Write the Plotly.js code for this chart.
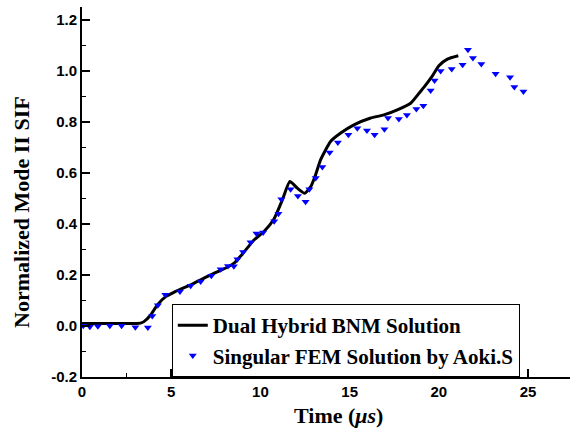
<!DOCTYPE html>
<html>
<head>
<meta charset="utf-8">
<script src="https://cdn.plot.ly/plotly-3.0.1.min.js"></script>
<style>html,body{margin:0;padding:0;background:#fff;}#chart{width:571px;height:442px;}</style>
</head>
<body>
<div id="chart"></div>
<script>
// Dual Hybrid BNM Solution (line)
const bnmTime = [0, 0.5, 1, 2, 3, 3.28, 3.47, 3.85, 4.22, 4.69, 5.15, 6.27, 7.21, 8.14, 8.52, 8.99, 9.64, 10.2, 10.76, 11.23, 11.65, 12.07, 12.48, 12.81, 13.09, 13.37, 13.93, 14.5, 15.24, 16.18, 16.92, 17.67, 18.42, 18.98, 19.17, 19.64, 20.0, 20.48, 21.09];
const bnmSIF  = [0.01, 0.01, 0.01, 0.01, 0.01, 0.011, 0.017, 0.043, 0.082, 0.115, 0.132, 0.167, 0.2, 0.23, 0.246, 0.282, 0.337, 0.37, 0.419, 0.494, 0.566, 0.54, 0.52, 0.545, 0.592, 0.651, 0.723, 0.756, 0.788, 0.815, 0.827, 0.847, 0.873, 0.92, 0.936, 0.98, 1.02, 1.046, 1.059];

// Singular FEM Solution by Aoki.S (markers)
const femTime = [0.07, 0.44, 0.89, 1.56, 2.22, 2.99, 3.69, 3.94, 4.25, 4.67, 5.49, 6.09, 6.65, 7.25, 7.77, 8.18, 8.51, 8.71, 9.03, 9.45, 9.78, 10.15, 10.77, 11.01, 11.17, 11.69, 12.10, 12.53, 12.74, 13.10, 13.47, 13.88, 14.34, 14.93, 15.43, 15.97, 16.40, 16.95, 17.15, 17.76, 18.21, 18.74, 19.13, 19.54, 19.76, 20.10, 20.72, 21.33, 21.63, 21.91, 22.38, 23.18, 23.99, 24.23, 24.74];
const femSIF  = [0.001, -0.003, -0.001, 0.001, 0.001, -0.005, -0.006, 0.039, 0.081, 0.122, 0.135, 0.158, 0.174, 0.197, 0.222, 0.235, 0.234, 0.261, 0.290, 0.328, 0.362, 0.366, 0.410, 0.440, 0.497, 0.536, 0.509, 0.487, 0.536, 0.580, 0.623, 0.680, 0.719, 0.749, 0.775, 0.766, 0.749, 0.771, 0.815, 0.811, 0.827, 0.850, 0.863, 0.923, 0.962, 0.999, 1.007, 1.024, 1.082, 1.050, 1.027, 0.988, 0.975, 0.936, 0.919];

const xTicks = [0, 5, 10, 15, 20, 25];
const xTickText = ['0', '5', '10', '15', '20', '25'];
const yTicks = [-0.2, 0.0, 0.2, 0.4, 0.6, 0.8, 1.0, 1.2];
const yTickText = ['-0.2', '0.0', '0.2', '0.4', '0.6', '0.8', '1.0', '1.2'];
const xTitle = 'Time (<i>μs</i>)';
const yTitle = 'Normalized Mode II SIF';
const bold = s => '<b>' + s + '</b>';

const traces = [
  {x: bnmTime, y: bnmSIF, mode: 'lines', name: bold('Dual Hybrid BNM Solution'),
   line: {color: '#000000', width: 3, shape: 'spline', smoothing: 0.5}},
  {x: femTime, y: femSIF, mode: 'markers', name: bold('Singular FEM Solution by Aoki.S'),
   marker: {symbol: 'triangle-down', color: '#0000ff', size: 7}}
];

const serif = "'Times New Roman', 'Liberation Serif', serif";
const sans = "Arial, 'Liberation Sans', sans-serif";
const tickFont = {family: sans, size: 15, color: '#000'};
const titleFont = {family: serif, size: 22, color: '#000'};

const layout = {
  width: 571, height: 442,
  margin: {l: 82, r: 1, t: 7, b: 65},
  paper_bgcolor: '#fff', plot_bgcolor: '#fff',
  showlegend: true,
  font: {family: serif},
  legend: {x: 0.184, y: 0.197, xanchor: 'left', yanchor: 'top',
           bordercolor: '#000', borderwidth: 1, bgcolor: '#fff',
           font: {family: serif, size: 21, color: '#000'},
           tracegroupgap: 0},
  xaxis: {range: [0, 27.35], showgrid: false, zeroline: false,
          showline: true, linecolor: '#000', linewidth: 2,
          tickmode: 'array', tickvals: xTicks, ticktext: xTickText.map(bold),
          ticks: 'inside', ticklen: 8, tickwidth: 2, tickcolor: '#000',
          minor: {ticks: 'inside', ticklen: 4, tickwidth: 1.5, dtick: 2.5, tick0: 0, tickcolor: '#000'},
          tickfont: tickFont},
  yaxis: {range: [-0.2, 1.25], showgrid: false, zeroline: false,
          showline: true, linecolor: '#000', linewidth: 2,
          tickmode: 'array', tickvals: yTicks, ticktext: yTickText.map(bold),
          ticks: 'inside', ticklen: 8, tickwidth: 2, tickcolor: '#000',
          minor: {ticks: 'inside', ticklen: 4, tickwidth: 1.5, dtick: 0.1, tick0: 0, tickcolor: '#000'},
          tickfont: tickFont},
  annotations: [
    {text: bold(xTitle), xref: 'paper', yref: 'paper', x: 0.5246, y: -0.103,
     xanchor: 'center', yanchor: 'middle', showarrow: false, font: titleFont},
    {text: bold(yTitle), xref: 'paper', yref: 'paper', x: -0.123, y: 0.446,
     xanchor: 'center', yanchor: 'middle', textangle: -90, showarrow: false, font: titleFont}
  ]
};

Plotly.newPlot('chart', traces, layout, {displayModeBar: false, staticPlot: true});
</script>
</body>
</html>
